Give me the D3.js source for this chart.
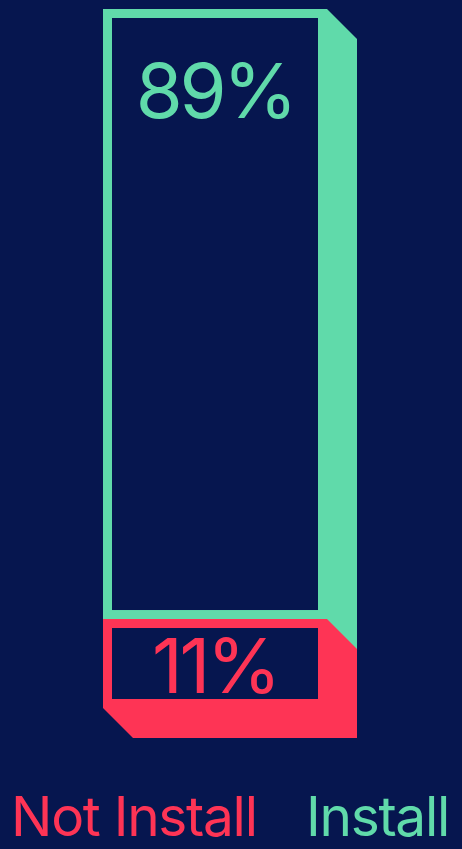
<!DOCTYPE html>
<html>
<head>
<meta charset="utf-8">
<script src="https://cdn.jsdelivr.net/npm/d3@7"></script>
<style>
    html, body { margin: 0; padding: 0; background: #06164f; }
    svg { display: block; }
</style>
</head>
<body>
<div id="chart"></div>
<script>
// stacked share, drawn top to bottom
const categories = ["Install", "Not Install"];
const shares = [89, 11];
const colors = ["#60daaa", "#fe3455"];

const width = 462, height = 849;
const bg = "#06164f";

const svg = d3.select("#chart").append("svg")
    .attr("width", width)
    .attr("height", height)
    .style("background", bg);

// front face and depth of the extrusion
const barLeft = 103, barRight = 327, barTop = 9;
const depth = 30;
const stroke = 9;
const minPad = 15.5;

// segment height = small fixed pad + value scaled
const h = d3.scaleLinear().domain([0, 100]).range([0, 668]);

let yCursor = barTop;
const segments = shares.map(function (v, i) {
    const seg = {name: categories[i], value: v, color: colors[i], y0: yCursor};
    yCursor += minPad + h(v);
    seg.y1 = yCursor;
    return seg;
});

// extruded blocks first, top to bottom so the lower one overlaps
segments.forEach(function (s) {
    const pts = [
        [barLeft, s.y0], [barRight, s.y0],
        [barRight + depth, s.y0 + depth], [barRight + depth, s.y1 + depth],
        [barLeft + depth, s.y1 + depth], [barLeft, s.y1]
    ];
    svg.append("polygon")
        .attr("points", pts.map(p => p.join(",")).join(" "))
        .attr("fill", s.color);
});

// front faces: hollow frames
segments.forEach(function (s) {
    svg.append("rect")
        .attr("x", barLeft + stroke)
        .attr("y", s.y0 + stroke)
        .attr("width", barRight - barLeft - 2 * stroke)
        .attr("height", s.y1 - s.y0 - 2 * stroke)
        .attr("fill", bg);

    svg.append("text")
        .attr("x", (barLeft + barRight) / 2)
        .attr("y", s.value > 50 ? s.y0 + 109 : s.y0 + 74)
        .attr("text-anchor", "middle")
        .attr("fill", s.color)
        .style("font-family", "Inter, 'Noto Sans', sans-serif")
        .style("font-size", "76px")
        .style("letter-spacing", "-3.5px")
        .text(s.value + "%");
});

// legend labels along the bottom
svg.append("text")
    .attr("x", 11)
    .attr("y", 836)
    .attr("fill", colors[1])
    .style("font-family", "Inter, 'Noto Sans', sans-serif")
    .style("font-size", "55px")
    .style("letter-spacing", "-1.3px")
    .text(categories[1]);

svg.append("text")
    .attr("x", 449)
    .attr("y", 836)
    .attr("text-anchor", "end")
    .attr("fill", colors[0])
    .style("font-family", "Inter, 'Noto Sans', sans-serif")
    .style("font-size", "55px")
    .style("letter-spacing", "-1.3px")
    .text(categories[0]);
</script>
</body>
</html>
